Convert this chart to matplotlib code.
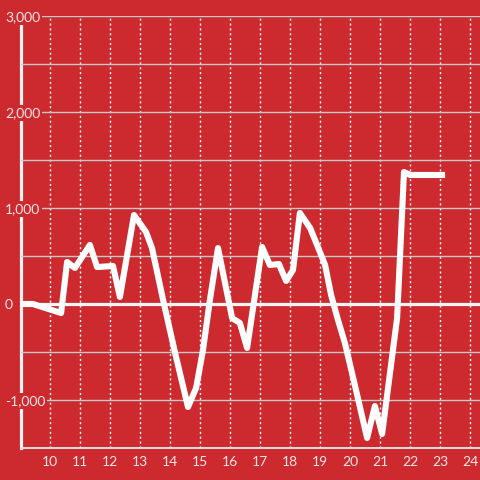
import matplotlib.pyplot as plt
from matplotlib.ticker import MultipleLocator, FuncFormatter

# time of day (hours) and value
hours = [9.0, 9.43, 10.37, 10.57, 10.83, 11.33, 11.57, 12.1, 12.33, 12.8,
         13.2, 13.4, 13.77, 14.17, 14.6, 14.87, 15.1, 15.33, 15.6, 16.07,
         16.33, 16.57, 17.07, 17.33, 17.63, 17.87, 18.1, 18.33, 18.67, 18.93,
         19.17, 19.37, 19.6, 19.83, 20.2, 20.57, 20.83, 21.07, 21.57, 21.8,
         22.0, 23.17]
values = [0, 0, -94, 438, 375, 615, 385, 396, 73, 927,
          750, 583, 42, -510, -1073, -875, -480, 42, 583, -146,
          -198, -458, 594, 406, 417, 240, 354, 948, 792, 594,
          406, 94, -167, -406, -896, -1396, -1063, -1354, -146, 1375,
          1344, 1344]

x_ticks = list(range(10, 25))
bg = "#cc2a2f"

fig = plt.figure(figsize=(4.8, 4.8), dpi=100, facecolor=bg)
ax = fig.add_axes([21 / 480, 32 / 480, 459 / 480, 432 / 480], facecolor=bg)

ax.set_xlim(9.0333, 24.3333)
ax.set_ylim(-1500, 3000)

# grid
ax.yaxis.set_major_locator(MultipleLocator(1000))
ax.yaxis.set_minor_locator(MultipleLocator(500))
ax.yaxis.set_major_formatter(FuncFormatter(lambda v, p: f"{v:,.0f}"))
ax.set_xticks(x_ticks)
ax.grid(axis="y", which="both", color="#c8c8c8", lw=1)
ax.grid(axis="x", color="white", lw=1, linestyle=(0, (1.5, 2)))

ax.axhline(0, color="#f5f5f5", lw=2.3, zorder=1.8)
ax.plot(hours, values, color="white", lw=4.4, solid_joinstyle="round",
        solid_capstyle="butt", zorder=2, clip_on=False)

for s in ["top", "right"]:
    ax.spines[s].set_visible(False)
ax.spines["left"].set_color("#f2f2f2")
ax.spines["left"].set_linewidth(2.3)
ax.spines["left"].set_zorder(1)
ax.spines["bottom"].set_color("#e0e0e0")
ax.spines["bottom"].set_linewidth(1.4)

ax.tick_params(axis="both", which="both", length=0)
ax.tick_params(axis="x", pad=6, labelsize=10, labelcolor="#f3e6e6")
ax.tick_params(axis="y", pad=11.5, labelsize=10, labelcolor="#f3e6e6")
for lab in ax.get_xticklabels() + ax.get_yticklabels():
    lab.set_fontfamily("Lato")
for lab in ax.get_yticklabels():
    lab.set_horizontalalignment("left")
    lab.set_bbox(dict(facecolor=bg, edgecolor="none", pad=1.5))

fig.savefig("out.png", dpi=100, facecolor=bg)
